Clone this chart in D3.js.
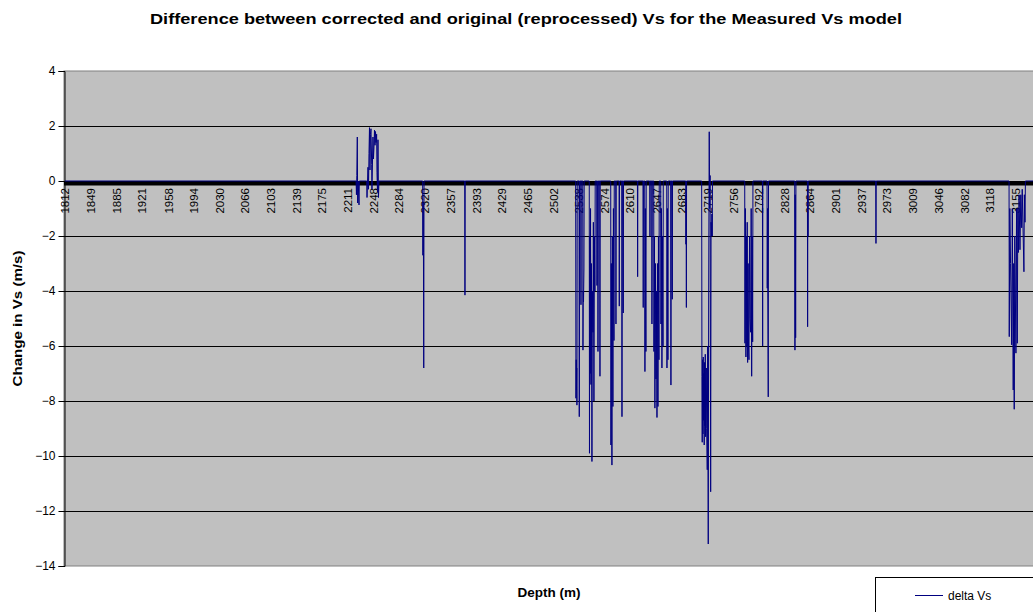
<!DOCTYPE html>
<html>
<head>
<meta charset="utf-8">
<script src="https://cdn.jsdelivr.net/npm/d3@7"></script>
<style>
  body { margin: 0; background: #fff; }
  svg { display: block; }
  text { font-family: "Liberation Sans", Arial, sans-serif; fill: #000; }
</style>
</head>
<body>
<svg id="chart" width="1033" height="612"></svg>
<script>
// Category labels along the depth axis (m)
const depthTicks = [1812, 1849, 1885, 1921, 1958, 1994, 2030, 2066, 2103, 2139, 2175, 2211,
  2248, 2284, 2320, 2357, 2393, 2429, 2465, 2502, 2538, 2574, 2610, 2647, 2683, 2719,
  2756, 2792, 2828, 2864, 2901, 2937, 2973, 3009, 3046, 3082, 3118, 3155];

// Value axis ticks (m/s)
const vsTicks = [4, 2, 0, -2, -4, -6, -8, -10, -12, -14];

// delta Vs log: depth (m) and change in Vs (m/s); zero everywhere outside the listed intervals
const depthM = [
  1812.0,
  2223.0, 2223.5, 2224.0, 2224.7, 2225.2, 2226.0, 2227.1, 2227.6,
  2238.0, 2238.4, 2239.8, 2240.5, 2241.2, 2241.9, 2242.6, 2243.3, 2244.0, 2245.0, 2245.4,
  2246.8, 2247.5, 2248.2, 2249.0, 2249.7, 2250.4, 2251.1, 2252.0, 2252.5, 2253.2, 2253.9,
  2254.6, 2255.3,
  2317.0, 2317.3, 2317.7, 2318.1, 2318.5, 2318.9,
  2376.4, 2376.7, 2377.0,
  2533.0, 2533.4, 2533.8, 2534.1, 2534.5, 2534.8, 2535.2,
  2537.8, 2538.1, 2538.5,
  2540.3, 2540.5, 2540.8,
  2543.0, 2543.3, 2543.7, 2544.1, 2544.7, 2545.0,
  2552.2, 2552.5, 2553.0, 2553.5, 2554.0, 2554.6, 2555.2, 2556.0, 2556.6, 2557.4, 2558.0,
  2558.8, 2559.5, 2560.2, 2560.6,
  2562.8, 2563.1, 2563.5,
  2564.2, 2564.5, 2565.0,
  2567.0, 2567.3, 2567.6,
  2582.5, 2582.8, 2583.4, 2584.2, 2584.8, 2585.6, 2586.3, 2587.1, 2587.5,
  2589.6, 2589.9, 2590.2,
  2594.3, 2594.6, 2594.9,
  2598.1, 2598.4, 2598.8,
  2599.9, 2600.2, 2600.5,
  2620.2, 2620.5, 2620.8,
  2628.1, 2628.4, 2628.7,
  2630.5, 2630.8, 2631.3, 2632.2, 2632.6,
  2637.6, 2637.9, 2638.3,
  2640.4, 2640.7, 2641.2,
  2643.2, 2643.5, 2644.2, 2644.9, 2645.6, 2646.4, 2647.0, 2647.8, 2648.5, 2649.2, 2649.9,
  2650.6, 2651.0,
  2653.1, 2653.4, 2654.0, 2654.8, 2655.5, 2656.3, 2656.7,
  2661.6, 2661.9, 2662.5, 2663.3, 2663.7,
  2667.2, 2667.5, 2667.9,
  2669.1, 2669.4, 2669.7,
  2688.4, 2688.7, 2689.0, 2689.3, 2689.6,
  2710.9, 2711.3, 2711.7, 2712.1, 2712.7, 2713.1, 2713.5, 2714.1, 2714.5, 2714.9, 2715.5,
  2716.0, 2716.5, 2716.9, 2717.5, 2718.0, 2718.8, 2719.4, 2720.2, 2720.8, 2721.6, 2722.2,
  2722.8, 2723.6, 2724.2, 2725.0, 2725.4, 2725.8, 2726.2,
  2771.7, 2772.0, 2772.6, 2773.4, 2774.0, 2774.6, 2775.2, 2775.8, 2776.5, 2777.0, 2777.7,
  2778.5, 2779.2, 2780.1, 2780.8, 2781.5, 2782.2, 2782.9, 2783.3,
  2796.7, 2797.0, 2797.3,
  2803.2, 2803.5, 2803.9, 2804.2, 2804.9, 2805.3,
  2842.3, 2842.6, 2842.9, 2843.2, 2843.6, 2844.0,
  2860.2, 2860.5, 2860.8, 2861.1, 2861.4,
  2956.7, 2957.0, 2957.3,
  3144.9, 3145.2, 3146.0, 3147.0, 3148.6, 3149.5, 3150.8, 3151.5, 3152.2, 3153.0, 3154.6,
  3155.5, 3156.5, 3157.3, 3158.1, 3159.0, 3160.3, 3161.5, 3162.7, 3163.5, 3165.9, 3166.5,
  3167.4, 3168.0,
  3190.0
];
const deltaVs = [
  0,
  0, -0.5, 0.2, 1.6, -0.8, 0, -0.87, 0,
  0, -0.6, 0.5, -0.3, 1.0, 1.94, 0.4, 1.7, 1.9, 0.6, -0.3,
  1.6, 0.8, 1.2, 1.85, 1.3, 1.8, 1.4, 1.7, 0.3, -0.4, 1.5,
  -0.6, 0,
  0, -2.7, -0.8, -2.6, -6.8, 0,
  0, -4.15, 0,
  0, -7.9, -6.5, -7.6, -6.8, -8.15, 0,
  0, -8.57, 0,
  0, -4.5, 0,
  0, -6.15, -4.0, -4.4, -3.2, 0,
  0, -9.9, -2.0, -7.0, -1.0, -7.4, -3.0, -10.2, -4.0, -5.5, -1.5,
  -8.0, -2.0, -4.0, 0,
  0, -3.8, 0,
  0, -6.2, 0,
  0, -7.1, 0,
  0, -9.6, -3.0, -10.33, -2.0, -8.2, -1.0, -5.8, 0,
  0, -5.2, 0,
  0, -4.55, 0,
  0, -8.57, 0,
  0, -4.8, 0,
  0, -3.48, 0,
  0, -4.6, 0,
  0, -6.93, -1.0, -6.2, 0,
  0, -2.0, 0,
  0, -5.2, 0,
  0, -6.2, -2.0, -8.26, -3.0, -7.2, -4.0, -8.6, -3.0, -8.2, -2.0,
  -6.5, 0,
  0, -5.2, -1.0, -6.8, -2.0, -6.0, 0,
  0, -6.8, -1.0, -6.5, 0,
  0, -7.42, 0,
  0, -4.3, 0,
  0, -2.3, -0.5, -4.6, 0,
  0, -7.1, -9.5, -6.5, -9.2, -6.4, -8.7, -7.0, -9.6, -6.6, -8.9,
  -6.3, -9.3, -7.5, -6.8, -9.0, -10.5, -6.0, -13.2, -4.0, 1.79, -1.0,
  0.2, -11.3, -1.5, -2.0, -1.2, -2.0, 0,
  0, -5.9, -1.0, -6.4, -2.0, -6.0, -1.5, -6.6, -3.0, -6.0, -6.5,
  -2.0, -5.0, -5.5, -1.0, -7.1, -2.0, -5.85, 0,
  0, -6.0, 0,
  0, -3.9, -1.0, -3.8, -7.85, 0,
  0, -6.15, -0.5, -1.4, -5.7, 0,
  0, -5.3, -0.5, -2.0, 0,
  0, -2.27, 0,
  0, -5.66, -1.0, -3.0, -5.96, -1.0, -7.6, -3.0, -8.3, -2.0, -6.26,
  -1.0, -5.9, -1.0, -2.6, -0.5, -2.5, -0.5, -1.7, -0.3, -3.3, -0.5,
  -1.5, 0,
  0
];

const seriesName = "delta Vs";
const chartTitle = "Difference between corrected and original (reprocessed) Vs for the Measured Vs model";
const yTitle = "Change in Vs (m/s)";
const xTitle = "Depth (m)";

const svg = d3.select("#chart");
const W = 1033, H = 612;
const plot = { left: 64, top: 71, right: 1045, bottom: 566 };

const x = d3.scaleLinear().domain([1812, 3118]).range([65, 990]);
const y = d3.scaleLinear().domain([-14, 4]).range([plot.bottom, plot.top]);

svg.append("rect").attr("width", W).attr("height", H).attr("fill", "#fff");

// plot area
svg.append("rect")
  .attr("x", plot.left).attr("y", plot.top)
  .attr("width", plot.right - plot.left).attr("height", plot.bottom - plot.top)
  .attr("fill", "#c0c0c0").attr("stroke", "#808080").attr("stroke-width", 1);

// horizontal gridlines
svg.append("g").selectAll("line").data(vsTicks.filter(v => v !== 4 && v !== -14)).join("line")
  .attr("x1", plot.left).attr("x2", plot.right)
  .attr("y1", d => Math.round(y(d)) + 0.5).attr("y2", d => Math.round(y(d)) + 0.5)
  .attr("stroke", "#000").attr("stroke-width", 1);

// value axis
const yAxis = d3.axisLeft(y).tickValues(vsTicks).tickSize(6).tickFormat(d3.format("d"));
const gy = svg.append("g").attr("transform", `translate(${plot.left + 0.5},0)`).call(yAxis);
gy.select(".domain").attr("stroke", "#000");
gy.selectAll(".tick line").attr("stroke", "#000");
gy.selectAll(".tick text")
  .attr("x", -9).attr("font-size", 12).attr("fill", "#000")
  .style("font-family", '"Liberation Sans", Arial, sans-serif');

// category axis at zero: dense tick marks form a solid band below the axis line
const y0 = y(0);
svg.append("rect")
  .attr("x", plot.left).attr("y", y0)
  .attr("width", plot.right - plot.left).attr("height", 4.5)
  .attr("fill", "#000");

// depth labels, rotated
svg.append("g").selectAll("text").data(depthTicks).join("text")
  .attr("transform", d => `translate(${x(d)},${y0 + 7}) rotate(-90)`)
  .attr("text-anchor", "end").attr("dy", "0.36em")
  .attr("font-size", 11.5).attr("fill", "#000")
  .text(d => d);

// data line
svg.append("clipPath").attr("id", "plotClip")
  .append("rect").attr("x", plot.left).attr("y", plot.top)
  .attr("width", plot.right - plot.left).attr("height", plot.bottom - plot.top);

const pts = depthM.map((d, i) => [d, deltaVs[i]]);
const line = d3.line().x(p => x(p[0])).y(p => y(p[1]));
svg.append("path")
  .attr("clip-path", "url(#plotClip)")
  .attr("d", line(pts))
  .attr("fill", "none").attr("stroke", "#000080").attr("stroke-width", 1);

// titles
svg.append("text")
  .attr("x", 526).attr("y", 24).attr("text-anchor", "middle")
  .attr("font-size", 15.5).attr("font-weight", "bold")
  .attr("textLength", 752).attr("lengthAdjust", "spacingAndGlyphs")
  .text(chartTitle);

svg.append("text")
  .attr("transform", `translate(22,${(plot.top + plot.bottom) / 2}) rotate(-90)`)
  .attr("text-anchor", "middle")
  .attr("font-size", 13.5).attr("font-weight", "bold")
  .attr("textLength", 136).attr("lengthAdjust", "spacingAndGlyphs")
  .text(yTitle);

svg.append("text")
  .attr("x", 549).attr("y", 597).attr("text-anchor", "middle")
  .attr("font-size", 13.5).attr("font-weight", "bold")
  .text(xTitle);

// legend
const lg = svg.append("g");
lg.append("rect").attr("x", 875.5).attr("y", 577.5).attr("width", 200).attr("height", 60)
  .attr("fill", "#fff").attr("stroke", "#000").attr("stroke-width", 1);
lg.append("line").attr("x1", 915).attr("x2", 943).attr("y1", 595.5).attr("y2", 595.5)
  .attr("stroke", "#000080").attr("stroke-width", 1);
lg.append("text").attr("x", 948).attr("y", 600).attr("font-size", 12).text(seriesName);
</script>
</body>
</html>
